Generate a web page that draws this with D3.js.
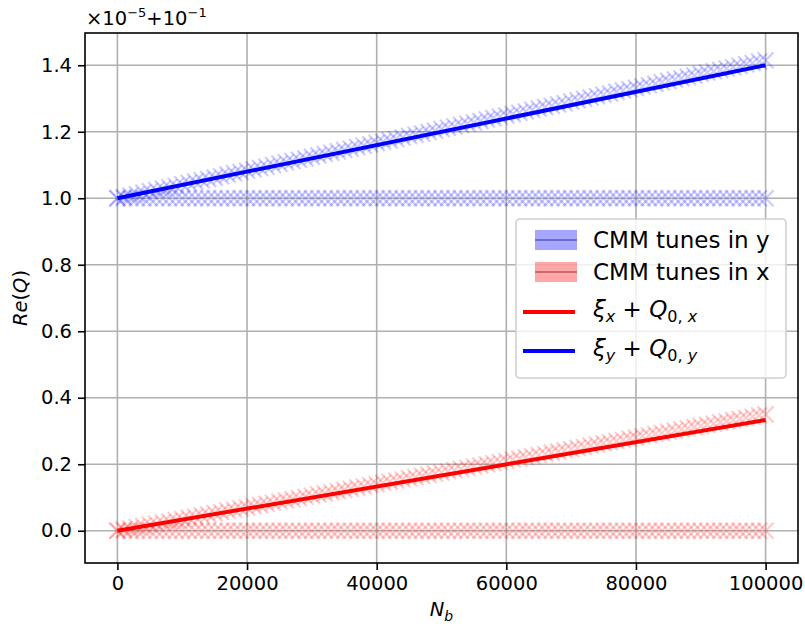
<!DOCTYPE html>
<html>
<head>
<meta charset="utf-8">
<script src="https://cdn.jsdelivr.net/npm/d3@7"></script>
<style>
  body { margin: 0; background: #fff; }
  svg { font-family: "DejaVu Sans", sans-serif; }
</style>
</head>
<body>
<div id="chart"></div>
<script>
// sample grid of bunch passages N_b (x axis)
const nbSamples = d3.range(0, 100001, 1000);

// CMM tunes (y axis, units of 1e-5 above 0.1)
const cmmYFlat = nbSamples.map(() => 1.0);
const cmmYShifted = [
  1.000,1.004,1.008,1.012,1.017,1.021,1.025,1.029,1.033,1.037,
  1.042,1.046,1.050,1.054,1.058,1.062,1.066,1.071,1.075,1.079,
  1.083,1.087,1.091,1.095,1.100,1.104,1.108,1.112,1.116,1.120,
  1.125,1.129,1.133,1.137,1.141,1.145,1.149,1.154,1.158,1.162,
  1.166,1.170,1.174,1.178,1.183,1.187,1.191,1.195,1.199,1.203,
  1.208,1.212,1.216,1.220,1.224,1.228,1.232,1.237,1.241,1.245,
  1.249,1.253,1.257,1.261,1.266,1.270,1.274,1.278,1.282,1.286,
  1.291,1.295,1.299,1.303,1.307,1.311,1.315,1.320,1.324,1.328,
  1.332,1.336,1.340,1.344,1.349,1.353,1.357,1.361,1.365,1.369,
  1.374,1.378,1.382,1.386,1.390,1.394,1.398,1.403,1.407,1.411,
  1.415
];
const cmmXFlat = nbSamples.map(() => 0.0);
const cmmXShifted = [
  0.000,0.004,0.007,0.011,0.014,0.018,0.021,0.025,0.028,0.032,
  0.035,0.039,0.042,0.046,0.049,0.053,0.056,0.060,0.063,0.067,
  0.070,0.074,0.077,0.081,0.084,0.088,0.091,0.095,0.098,0.102,
  0.105,0.109,0.112,0.116,0.119,0.123,0.126,0.130,0.133,0.137,
  0.140,0.144,0.147,0.151,0.154,0.158,0.161,0.165,0.168,0.172,
  0.175,0.179,0.182,0.186,0.189,0.193,0.196,0.200,0.203,0.207,
  0.210,0.214,0.217,0.221,0.224,0.228,0.231,0.235,0.238,0.242,
  0.245,0.249,0.252,0.256,0.259,0.263,0.266,0.270,0.273,0.277,
  0.280,0.284,0.287,0.291,0.294,0.298,0.301,0.305,0.308,0.312,
  0.315,0.319,0.322,0.326,0.329,0.333,0.336,0.340,0.343,0.347,
  0.350
];

// analytic chromaticity lines xi + Q0 (endpoints)
const lineNb = [0, 100000];
const xiX = [0.0, 0.333];
const xiY = [1.0, 1.400];

const xTicks = [0, 20000, 40000, 60000, 80000, 100000];
const yTicks = [0.0, 0.2, 0.4, 0.6, 0.8, 1.0, 1.2, 1.4];

const width = 805, height = 626;
const margin = { left: 85, right: 7, top: 33, bottom: 63 };

const svg = d3.select("#chart").append("svg")
  .attr("width", width)
  .attr("height", height);

const x = d3.scaleLinear().domain([-5000, 105000]).range([margin.left, width - margin.right]);
const y = d3.scaleLinear().domain([-0.097, 1.497]).range([height - margin.bottom, margin.top]);

svg.append("defs").append("clipPath").attr("id", "clip")
  .append("rect")
  .attr("x", margin.left).attr("y", margin.top)
  .attr("width", width - margin.left - margin.right)
  .attr("height", height - margin.top - margin.bottom);

// grid
const grid = svg.append("g");
grid.selectAll(".gx").data(xTicks).enter().append("line")
  .attr("x1", d => x(d)).attr("x2", d => x(d))
  .attr("y1", margin.top).attr("y2", height - margin.bottom)
  .style("stroke", "#b0b0b0").style("stroke-width", 1.6);
grid.selectAll(".gy").data(yTicks).enter().append("line")
  .attr("y1", d => y(d)).attr("y2", d => y(d))
  .attr("x1", margin.left).attr("x2", width - margin.right)
  .style("stroke", "#b0b0b0").style("stroke-width", 1.6);

// markers
const plot = svg.append("g").attr("clip-path", "url(#clip)");
const m = 8;
function drawCrosses(vals, color) {
  plot.append("g").selectAll("path")
    .data(vals.map((v, i) => [nbSamples[i], v]))
    .enter().append("path")
    .attr("d", d => {
      const px = x(d[0]), py = y(d[1]);
      return `M${px - m},${py - m}L${px + m},${py + m}M${px - m},${py + m}L${px + m},${py - m}`;
    })
    .style("stroke", color)
    .style("stroke-width", 2.2)
    .style("stroke-opacity", 0.2)
    .style("fill", "none");
}
drawCrosses(cmmYFlat, "#0000ff");
drawCrosses(cmmYShifted, "#0000ff");
drawCrosses(cmmXFlat, "#ff0000");
drawCrosses(cmmXShifted, "#ff0000");

const line = d3.line().x(d => x(d[0])).y(d => y(d[1]));
plot.append("path")
  .attr("d", line(lineNb.map((n, i) => [n, xiX[i]])))
  .style("stroke", "#ff0000").style("stroke-width", 4).style("fill", "none");
plot.append("path")
  .attr("d", line(lineNb.map((n, i) => [n, xiY[i]])))
  .style("stroke", "#0000ff").style("stroke-width", 4).style("fill", "none");

// axes
const xAxis = svg.append("g")
  .attr("transform", `translate(0,${height - margin.bottom})`)
  .call(d3.axisBottom(x).tickValues(xTicks).tickSize(7).tickPadding(6).tickFormat(d3.format("d")));
const yAxis = svg.append("g")
  .attr("transform", `translate(${margin.left},0)`)
  .call(d3.axisLeft(y).tickValues(yTicks).tickSize(7).tickPadding(6).tickFormat(d3.format(".1f")));
[xAxis, yAxis].forEach(a => {
  a.select(".domain").remove();
  a.selectAll("line").style("stroke", "#000").style("stroke-width", 1.6);
  a.selectAll("text").style("font-size", "19.5px").style("fill", "#000")
    .style("font-family", "DejaVu Sans");
});

// spines
svg.append("rect")
  .attr("x", margin.left).attr("y", margin.top)
  .attr("width", width - margin.left - margin.right)
  .attr("height", height - margin.top - margin.bottom)
  .style("fill", "none").style("stroke", "#000").style("stroke-width", 1.6);

// offset text
const off = svg.append("text").attr("x", 86).attr("y", 25).style("font-size", "19.5px");
off.append("tspan").text("×10");
off.append("tspan").attr("dy", -8).style("font-size", "13px").text("−5");
off.append("tspan").attr("dy", 8).text("+10");
off.append("tspan").attr("dy", -8).style("font-size", "13px").text("−1");

// axis labels
const yl = svg.append("text")
  .attr("transform", `translate(27,${(margin.top + height - margin.bottom) / 2}) rotate(-90)`)
  .attr("text-anchor", "middle").style("font-size", "19.5px");
yl.append("tspan").style("font-style", "italic").text("Re");
yl.append("tspan").text("(");
yl.append("tspan").style("font-style", "italic").text("Q");
yl.append("tspan").text(")");

const xl = svg.append("text")
  .attr("x", (margin.left + width - margin.right) / 2).attr("y", 616)
  .attr("text-anchor", "middle").style("font-size", "19.5px");
xl.append("tspan").style("font-style", "italic").text("N");
xl.append("tspan").attr("dy", 5).style("font-size", "14px").style("font-style", "italic").text("b");

// legend
const lg = svg.append("g");
lg.append("rect")
  .attr("x", 516).attr("y", 219).attr("width", 270).attr("height", 159)
  .attr("rx", 4)
  .style("fill", "#fff").style("fill-opacity", 0.8)
  .style("stroke", "#d0d0d0").style("stroke-width", 1.6);

const patchRows = [
  { cy: 240, fill: "#0000ff", mid: "#5a5ab4", label: "CMM tunes in y" },
  { cy: 272, fill: "#ff0000", mid: "#b45a5a", label: "CMM tunes in x" }
];
patchRows.forEach(r => {
  lg.append("rect").attr("x", 535).attr("y", r.cy - 10).attr("width", 42).attr("height", 20)
    .style("fill", r.fill).style("fill-opacity", 0.35);
  lg.append("line").attr("x1", 535).attr("x2", 577).attr("y1", r.cy).attr("y2", r.cy)
    .style("stroke", r.mid).style("stroke-width", 1.5);
  lg.append("text").attr("x", 593).attr("y", r.cy + 8).style("font-size", "23px").text(r.label);
});

const mathRows = [
  { cy: 312, color: "#ff0000", sub: "x" },
  { cy: 351, color: "#0000ff", sub: "y" }
];
mathRows.forEach(r => {
  lg.append("line").attr("x1", 523).attr("x2", 575).attr("y1", r.cy).attr("y2", r.cy)
    .style("stroke", r.color).style("stroke-width", 4);
  const t = lg.append("text").attr("x", 593).attr("y", r.cy + 5).style("font-size", "23px");
  t.append("tspan").style("font-style", "italic").text("ξ");
  t.append("tspan").attr("dy", 5).style("font-size", "16px").style("font-style", "italic").text(r.sub);
  t.append("tspan").attr("dy", -5).text(" + ");
  t.append("tspan").style("font-style", "italic").text("Q");
  t.append("tspan").attr("dy", 5).style("font-size", "16px").text("0, ");
  t.append("tspan").style("font-size", "16px").style("font-style", "italic").text(r.sub);
});
</script>
</body>
</html>
